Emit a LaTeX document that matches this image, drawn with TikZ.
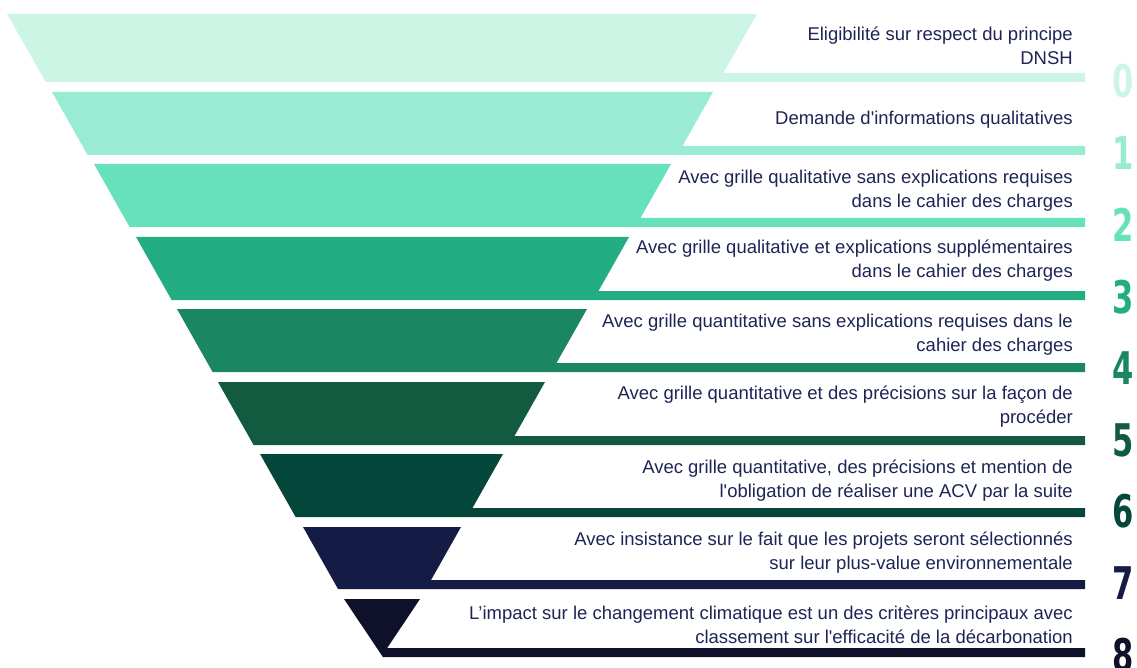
\documentclass[tikz,border=0pt]{standalone}
\usepackage{fontspec}
\setmainfont{Liberation Sans}
\newfontfamily\numfont{DejaVu Sans}
\definecolor{c0}{HTML}{CCF5E6}
\definecolor{c1}{HTML}{99ECD3}
\definecolor{c2}{HTML}{66E1BC}
\definecolor{c3}{HTML}{22AD82}
\definecolor{c4}{HTML}{1A8662}
\definecolor{c5}{HTML}{125B40}
\definecolor{c6}{HTML}{05473A}
\definecolor{c7}{HTML}{141B45}
\definecolor{c8}{HTML}{0E1129}
\definecolor{txt}{HTML}{1E2455}
\newcommand\fband[6]{%
  \fill[#6] (#3,#1) -- (#4,#1) -- ({#4-#5*(#2-9-#1)},{#2-9}) -- (1085,{#2-9}) -- (1085,#2) -- ({#3+#5*(#2-#1)},#2) -- cycle;}
\newcommand\sq{\textquotesingle}
\tikzset{
  lbl/.style={font=\fontsize{18.5}{23.5}\selectfont, text=txt, align=right, inner sep=0pt, anchor=east},
  num/.style={font=\numfont\bfseries\fontsize{45}{45}\selectfont, inner sep=0pt}
}
\begin{document}
\begin{tikzpicture}[x=1pt,y=-1pt]
\useasboundingbox (0,0) rectangle (1137,668);
\fband{14}{82}{7}{757}{0.57}{c0}
\fband{92}{155}{52}{713}{0.565}{c1}
\fband{164}{227}{94}{671}{0.565}{c2}
\fband{237}{300}{136}{629}{0.565}{c3}
\fband{309}{372}{177}{587}{0.565}{c4}
\fband{382}{445}{218}{545}{0.565}{c5}
\fband{454}{517}{260}{503}{0.565}{c6}
\fband{527}{589}{303}{461}{0.565}{c7}
\fband{599}{657}{344}{420}{0.67}{c8}
\node[lbl] (t0) at (1073,46) {Eligibilité sur respect du principe\\DNSH};
\node[lbl] (t1) at (1073,120) {Demande d\sq informations qualitatives};
\node[lbl] (t2) at (1073,190.5) {Avec grille qualitative sans explications requises\\dans le cahier des charges};
\node[lbl] (t3) at (1073,260.5) {Avec grille qualitative et explications supplémentaires\\dans le cahier des charges};
\node[lbl] (t4) at (1073,334.5) {Avec grille quantitative sans explications requises dans le\\cahier des charges};
\node[lbl] (t5) at (1073,406.5) {Avec grille quantitative et des précisions sur la façon de\\procéder};
\node[lbl] (t6) at (1073,480.5) {Avec grille quantitative, des précisions et mention de\\l\sq obligation de réaliser une ACV par la suite};
\node[lbl] (t7) at (1073,552.5) {Avec insistance sur le fait que les projets seront sélectionnés\\sur leur plus-value environnementale};
\node[lbl] (t8) at (1073,625) {L’impact sur le changement climatique est un des critères principaux avec\\classement sur l\sq efficacité de la décarbonation};
\node[num,text=c0] (n0) at (1123,81.5) {\scalebox{0.68}[1]{0}};
\node[num,text=c1] (n1) at (1123,153) {\scalebox{0.68}[1]{1}};
\node[num,text=c2] (n2) at (1123,225) {\scalebox{0.68}[1]{2}};
\node[num,text=c3] (n3) at (1123,297.5) {\scalebox{0.68}[1]{3}};
\node[num,text=c4] (n4) at (1123,368.5) {\scalebox{0.68}[1]{4}};
\node[num,text=c5] (n5) at (1123,440) {\scalebox{0.68}[1]{5}};
\node[num,text=c6] (n6) at (1123,511) {\scalebox{0.68}[1]{6}};
\node[num,text=c7] (n7) at (1123,583) {\scalebox{0.68}[1]{7}};
\node[num,text=c8] (n8) at (1123,655) {\scalebox{0.68}[1]{8}};
\end{tikzpicture}
\end{document}
